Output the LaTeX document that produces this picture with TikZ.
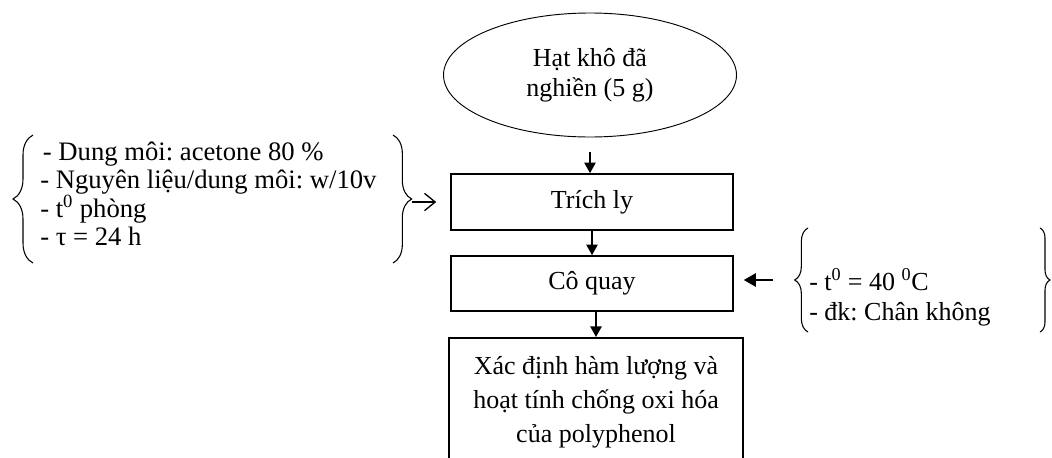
\documentclass[tikz,border=0pt]{standalone}
\usepackage{fontspec}
\setmainfont{Liberation Serif}
\usetikzlibrary{shapes.geometric,arrows.meta,decorations.pathreplacing}
\frenchspacing

\begin{document}
\begin{tikzpicture}[x=0.75pt,y=-0.75pt,
  font=\fontsize{19.5}{21}\selectfont,
  stepbox/.style={draw,line width=1.2pt,rectangle,minimum width=211.5pt,align=center},
  flow/.style={line width=1.2pt,-{Triangle[length=8pt,width=8.5pt]}},
  feed/.style={line width=1pt,-{Straight Barb[length=8pt,width=13pt]}},
  curly/.style={draw,line width=0.8pt,decorate,decoration={brace,amplitude=#1}}]
\useasboundingbox (0,0) rectangle (1052,457);
\clip (0,0) rectangle (1052,457);

\node[draw,ellipse,line width=0.7pt,minimum width=219.75pt,minimum height=93pt,
  align=center,font=\fontsize{19.5}{22.5}\selectfont] (hat) at (590,75) {Hạt khô đã\\nghiền (5 g)};
\node[stepbox,minimum height=42pt] (trich) at (592,202) {Trích ly};
\node[stepbox,minimum height=41.25pt] (coquay) at (592,283.5) {Cô quay};
\node[stepbox,minimum width=220.5pt,minimum height=96pt,anchor=north,
  font=\fontsize{19.5}{25.5}\selectfont] (xacdinh) at (596,337)
  {Xác định hàm lượng và\\hoạt tính chống oxi hóa\\của polyphenol};

\draw[flow,shorten <=11pt] (hat.south) -- (hat.south |- trich.north);
\draw[flow] (trich.south) -- (coquay.north);
\draw[flow] (coquay.south -| xacdinh.north) -- (xacdinh.north);

% dieu kien trich ly
\node[align=left,inner sep=0pt,anchor=west,font=\fontsize{20}{21}\selectfont] (dktrich) at (40,194)
  {\hspace{2pt}- Dung môi: acetone 80 \%\\- Nguyên liệu/dung môi: w/10v\\- t\textsuperscript{0} phòng\\- τ = 24 h};
\path[curly=15pt] (33,263) -- (33,135);
\path[curly=14pt] (393,135) -- (393,263);
\coordinate (tiptrich) at (412,202);
\draw[feed,shorten >=10.5pt] (tiptrich) -- (trich.west);

% dieu kien co quay
\node[align=left,inner sep=0pt,anchor=west,font=\fontsize{19.5}{22.5}\selectfont] (dkcoquay) at (809,297)
  {- t\textsuperscript{0} = 40 \textsuperscript{0}C\\- đk: Chân không};
\path[curly=10pt] (808,332) -- (808,228);
\path[curly=7.5pt] (1040,228) -- (1040,332);
\coordinate (tipcoquay) at (795,280);
\draw[flow,shorten <=16.5pt,shorten >=7.5pt,-{Triangle[length=9pt,width=10pt]}] (tipcoquay) -- (tipcoquay -| coquay.east);
\end{tikzpicture}
\end{document}
